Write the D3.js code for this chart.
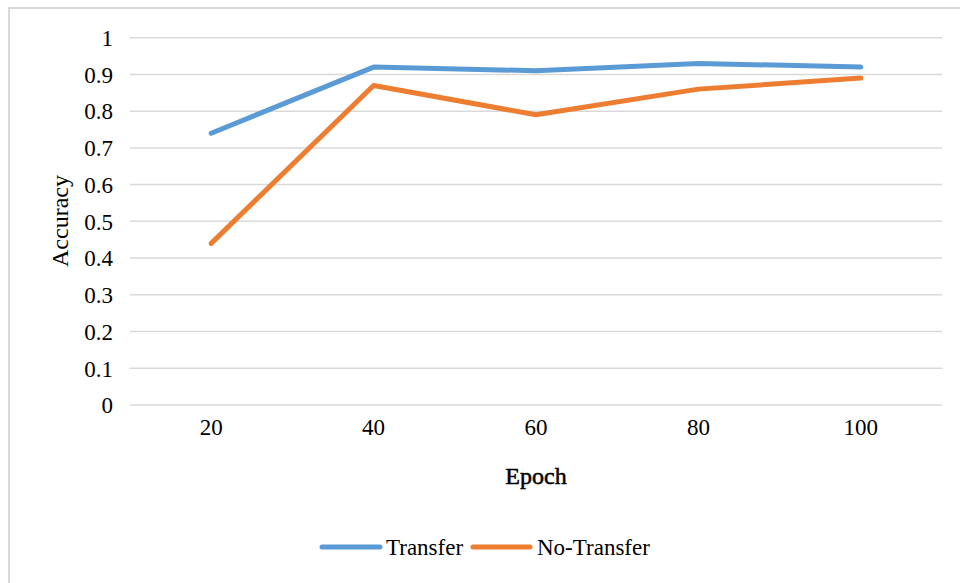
<!DOCTYPE html>
<html>
<head>
<meta charset="utf-8">
<script src="https://cdn.jsdelivr.net/npm/d3@7"></script>
<style>
html,body{margin:0;padding:0;background:#fff;}
svg{display:block;}
</style>
</head>
<body>
<svg id="chart" width="960" height="583"></svg>
<script>
const epochs = ["20","40","60","80","100"];
const transfer = [0.74, 0.92, 0.91, 0.93, 0.92];
const noTransfer = [0.44, 0.87, 0.79, 0.86, 0.89];
const yTicks = [0,0.1,0.2,0.3,0.4,0.5,0.6,0.7,0.8,0.9,1];
const seriesNames = ["Transfer","No-Transfer"];
const colors = ["#5B9BD5","#ED7D31"];
const FONT = "'Liberation Serif', 'DejaVu Serif', serif";

const svg = d3.select("#chart");
const W = 960, H = 583;
svg.append("rect").attr("x",0).attr("y",0).attr("width",W).attr("height",H).attr("fill","#fff");
// outer chart border
svg.append("rect").attr("x",9).attr("y",8).attr("width",960).attr("height",600)
  .attr("fill","none").attr("stroke","#D9D9D9").attr("stroke-width",2);

const plot = {left:130, right:942, top:37.7, bottom:405};
const x = d3.scaleBand().domain(epochs).range([plot.left, plot.right]);
const y = d3.scaleLinear().domain([0,1]).range([plot.bottom, plot.top]);

// gridlines
svg.append("g").selectAll("line").data(yTicks).join("line")
  .attr("x1",plot.left).attr("x2",plot.right)
  .attr("y1",d=>y(d)).attr("y2",d=>y(d))
  .attr("stroke","#D9D9D9").attr("stroke-width",1.5);

// y axis
const yAxis = d3.axisLeft(y).tickValues(yTicks).tickSize(0).tickPadding(17)
  .tickFormat(d=>d3.format("")(+d.toFixed(1)));
const gy = svg.append("g").attr("transform",`translate(${plot.left},0)`).call(yAxis);
gy.select(".domain").remove();
gy.selectAll("text").style("font-size","23px").style("font-family",FONT).attr("fill","#000").attr("dy","0.34em");

// x axis
const xAxis = d3.axisBottom(x).tickSize(0).tickPadding(14);
const gx = svg.append("g").attr("transform",`translate(0,${plot.bottom})`).call(xAxis);
gx.select(".domain").remove();
gx.selectAll("text").style("font-size","23px").style("font-family",FONT).attr("fill","#000");

// axis titles
svg.append("text").attr("x",(plot.left+plot.right)/2).attr("y",484)
  .attr("text-anchor","middle").style("font-size","24px").style("font-family",FONT)
  .attr("stroke","#000").attr("stroke-width",0.5).text("Epoch");
svg.append("text").attr("transform","translate(68,221) rotate(-90)")
  .attr("text-anchor","middle").style("font-size","24px").style("font-family",FONT).text("Accuracy");

// lines
const line = d3.line().x((d,i)=>x(epochs[i])+x.bandwidth()/2).y(d=>y(d));
[transfer, noTransfer].forEach((s,k)=>{
  svg.append("path").datum(s).attr("d",line)
    .attr("fill","none").attr("stroke",colors[k]).attr("stroke-width",5)
    .attr("stroke-linecap","round").attr("stroke-linejoin","round");
});

// legend
const legendY = 547;
const legendItems = [{x1:322,x2:380,tx:386},{x1:473,x2:530,tx:537}];
legendItems.forEach((it,k)=>{
  svg.append("line").attr("x1",it.x1).attr("x2",it.x2).attr("y1",legendY).attr("y2",legendY)
    .attr("stroke",colors[k]).attr("stroke-width",5).attr("stroke-linecap","round");
  svg.append("text").attr("x",it.tx).attr("y",legendY).attr("dy","0.35em")
    .style("font-size","23px").style("font-family",FONT).text(seriesNames[k]);
});
</script>
</body>
</html>
